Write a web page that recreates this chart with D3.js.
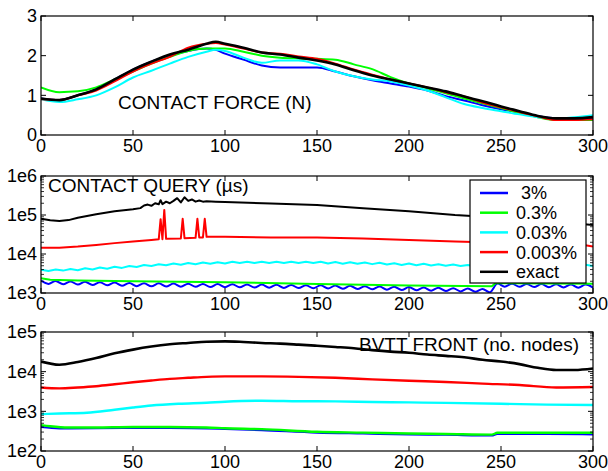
<!DOCTYPE html>
<html><head><meta charset="utf-8">
<script src="https://cdn.jsdelivr.net/npm/d3@7"></script>
<style>body{margin:0;background:#fff}svg{display:block;font-family:"Liberation Sans",Arial,Helvetica,sans-serif}</style>
</head><body><svg id="c" width="608" height="471"></svg>
<script>
// ---------- DATA ----------
const seriesNames = [" 3%", "0.3%", "0.03%", "0.003%", "exact"];
const seriesColors = ["#0000ff", "#00ff00", "#00ffff", "#ff0000", "#000000"];
const xTicks = [0, 50, 100, 150, 200, 250, 300];

// Panel 1: contact force (N)
const forceX = [0,10,20,30,40,50,60,70,80,90,95,100,110,120,130,140,150,160,170,180,190,200,210,220,230,240,250,260,270,280,290,300];
const forceBlue  = [0.92,0.88,1.0,1.15,1.4,1.65,1.85,2.0,2.12,2.18,2.15,2.05,1.9,1.75,1.7,1.7,1.7,1.6,1.48,1.38,1.3,1.22,1.12,0.98,0.87,0.75,0.65,0.57,0.47,0.42,0.42,0.42];
const forceGreen = [1.2,1.08,1.1,1.2,1.4,1.6,1.8,1.97,2.12,2.18,2.18,2.18,2.1,2.0,1.95,1.93,1.92,1.9,1.78,1.66,1.46,1.3,1.18,1.05,0.92,0.8,0.68,0.56,0.45,0.38,0.38,0.38];
const forceCyan  = [0.9,0.83,0.9,1.0,1.2,1.45,1.62,1.8,1.97,2.1,2.15,2.12,1.95,1.82,1.88,1.88,1.78,1.6,1.48,1.4,1.35,1.25,1.12,0.95,0.78,0.68,0.6,0.52,0.45,0.42,0.45,0.5];
const forceRed   = [0.9,0.88,1.0,1.12,1.35,1.6,1.8,1.97,2.2,2.3,2.32,2.28,2.18,2.08,2.05,1.98,1.92,1.8,1.65,1.52,1.4,1.3,1.2,1.08,0.97,0.82,0.7,0.58,0.47,0.38,0.38,0.4];
const forceBlack = [0.92,0.88,1.0,1.15,1.4,1.65,1.85,2.03,2.15,2.3,2.35,2.3,2.2,2.08,2.03,1.95,1.88,1.78,1.63,1.5,1.4,1.3,1.2,1.1,0.97,0.85,0.72,0.6,0.48,0.42,0.42,0.45];
const forceTicks = [0, 1, 2, 3];

// Panel 2: contact query time (µs), log scale
const queryGridX = [0,4,8,12,16,20,24,28,32,36,40,44,48,52,56,60,64,68,72,76,80,84,88,92,96,100,104,108,112,116,120,124,128,132,136,140,144,148,152,156,160,164,168,172,176,180,184,188,192,196,200,204,208,212,216,220,224,228,232,236,240,244,248,252,256,260,264,268,272,276,280,284,288,292,296,300];
const queryBlue = [2070,1710,2030,1670,1980,1640,1940,1600,1900,1570,1850,1530,1810,1500,1780,1480,1770,1470,1740,1450,1730,1440,1710,1420,1700,1410,1680,1400,1660,1380,1650,1370,1630,1350,1610,1340,1590,1320,1580,1310,1550,1280,1530,1260,1500,1240,1470,1220,1440,1190,1420,1170,1380,1150,1360,1120,1330,1100,1300,1070,1270,1050,1740,1450,1730,1440,1710,1420,1690,1410,1670,1390,1660,1370,1640,1370];
const queryCyan = [3950,3650,3990,3750,4100,3850,4300,4000,4500,4200,4700,4400,4950,4650,5200,4900,5450,5150,5700,5300,5900,5450,6050,5600,6150,5700,6350,5850,6350,5850,6350,5850,6350,5850,6350,5850,6350,5850,6350,5700,6200,5650,6150,5600,6050,5500,5950,5350,5800,5250,5700,5150,5600,5100,5450,5000,5350,4900,5250,4800,5200,4800,5200,4800,5200,4800,5200,4800,5200,4800,5200,4850,5250,4900,5300,4950];
const queryGreen = [[0,2400],[5,2200],[20,2100],[50,2000],[100,1900],[150,1700],[200,1550],[245,1480],[247,1780],[275,1750],[300,1720]];
const queryRed = [[0,14500],[10,14500],[20,15500],[30,17000],[40,19000],[50,21000],[60,23000],[64,24000],[65,78000],[66,24000],[67,135000],[68,24500],[76,25000],[77,80000],[78,25500],[84,26000],[85,80000],[86,26500],[88,26500],[89,80000],[90,27500],[100,27500],[125,26500],[150,26500],[175,25000],[200,23000],[225,21000],[250,19500],[275,18000],[295,17000],[300,15500]];
const queryBlack = [[0,80000],[5,73000],[10,70000],[15,74000],[20,85000],[30,105000],[40,125000],[50,140000],[54,150000],[56,175000],[58,185000],[60,172000],[62,200000],[64,188000],[65,240000],[66,190000],[68,220000],[70,200000],[72,230000],[74,270000],[76,210000],[78,285000],[80,230000],[82,250000],[84,220000],[86,235000],[88,220000],[90,225000],[95,220000],[100,215000],[125,197000],[150,180000],[175,150000],[200,125000],[225,100000],[250,85000],[275,70000],[300,55000]];
const queryTicks = [1e3, 1e4, 1e5, 1e6];
const queryTickLabels = ["1e3", "1e4", "1e5", "1e6"];

// Panel 3: BVTT front size (no. nodes), log scale
const frontBlue  = [[0,400],[10,370],[30,375],[50,380],[70,378],[90,370],[100,360],[120,335],[150,290],[175,275],[200,262],[220,255],[245,245],[248,268],[275,268],[300,262]];
const frontGreen = [[0,450],[5,420],[15,390],[30,392],[50,402],[70,402],[90,392],[100,375],[120,355],[150,305],[175,290],[200,275],[220,268],[245,258],[248,288],[275,288],[300,288]];
const frontCyan  = [[0,850],[10,880],[25,920],[40,1100],[50,1250],[60,1400],[75,1550],[90,1650],[100,1750],[120,1850],[140,1800],[160,1780],[180,1720],[200,1680],[220,1630],[250,1550],[275,1480],[300,1450]];
const frontRed   = [[0,4000],[10,3800],[20,4000],[30,4300],[40,4800],[50,5400],[60,6000],[70,6600],[80,7000],[90,7400],[100,7600],[120,7600],[140,7400],[160,7000],[180,6400],[200,5900],[220,5500],[240,5000],[260,4600],[280,4000],[300,4100]];
const frontBlack = [[0,18000],[10,15000],[20,17500],[30,22000],[40,29000],[50,36000],[60,43000],[70,49000],[80,53000],[90,57000],[100,58000],[110,56000],[120,53000],[130,51000],[140,48000],[150,45000],[160,42000],[170,39000],[180,35000],[190,32000],[200,30000],[210,27000],[220,25000],[230,23000],[240,20000],[250,18000],[260,15500],[270,12500],[280,11000],[290,11000],[300,12000]];
const frontTicks = [1e2, 1e3, 1e4, 1e5];
const frontTickLabels = ["1e2", "1e3", "1e4", "1e5"];

// ---------- DRAW ----------
const svg = d3.select("#c");
const L = 41, R = 593;
const x = d3.scaleLinear().domain([0, 300]).range([L, R]);

const zipPairs = (xs, ys) => xs.map((v, i) => [v, ys[i]]);

const panels = [
  { top: 16, bottom: 135, log: false, domain: [0, 3], ticks: forceTicks, labels: forceTicks.map(String),
    series: [zipPairs(forceX, forceBlue), zipPairs(forceX, forceGreen), zipPairs(forceX, forceCyan), zipPairs(forceX, forceRed), zipPairs(forceX, forceBlack)],
    curves: [d3.curveMonotoneX, d3.curveMonotoneX, d3.curveMonotoneX, d3.curveMonotoneX, d3.curveMonotoneX],
    widths: [2, 2, 2, 2, 2.6] },
  { top: 176, bottom: 293, log: true, domain: [1e3, 1e6], ticks: queryTicks, labels: queryTickLabels,
    series: [zipPairs(queryGridX, queryBlue), queryGreen, zipPairs(queryGridX, queryCyan), queryRed, queryBlack],
    curves: [d3.curveCatmullRom, d3.curveLinear, d3.curveLinear, d3.curveLinear, d3.curveLinear],
    widths: [2, 2, 2, 2, 2] },
  { top: 332, bottom: 451, log: true, domain: [1e2, 1e5], ticks: frontTicks, labels: frontTickLabels,
    series: [frontBlue, frontGreen, frontCyan, frontRed, frontBlack],
    curves: [d3.curveMonotoneX, d3.curveMonotoneX, d3.curveMonotoneX, d3.curveMonotoneX, d3.curveMonotoneX],
    widths: [2, 2.4, 2.4, 2.4, 2.6] }
];

const fsTick = 18;

panels.forEach((p, pi) => {
  const y = (p.log ? d3.scaleLog() : d3.scaleLinear()).domain(p.domain).range([p.bottom, p.top]);
  const g = svg.append("g");
  const clipId = "clip" + pi;
  svg.append("clipPath").attr("id", clipId).append("rect")
    .attr("x", L).attr("y", p.top).attr("width", R - L).attr("height", p.bottom - p.top);

  const lines = g.append("g").attr("clip-path", `url(#${clipId})`);
  p.series.forEach((s, si) => {
    lines.append("path")
      .attr("d", d3.line().x(d => x(d[0])).y(d => y(d[1])).curve(p.curves[si])(s))
      .attr("fill", "none").attr("stroke", seriesColors[si])
      .attr("stroke-width", p.widths[si]).attr("stroke-linejoin", "round");
  });

  // frame
  g.append("rect").attr("x", L).attr("y", p.top).attr("width", R - L).attr("height", p.bottom - p.top)
    .attr("fill", "none").attr("stroke", "#000").attr("stroke-width", 1.2);

  // x ticks (inside, top and bottom)
  xTicks.forEach(t => {
    const xx = x(t);
    g.append("line").attr("x1", xx).attr("x2", xx).attr("y1", p.bottom).attr("y2", p.bottom - 5).attr("stroke", "#000");
    g.append("line").attr("x1", xx).attr("x2", xx).attr("y1", p.top).attr("y2", p.top + 5).attr("stroke", "#000");
    g.append("text").attr("x", xx).attr("y", p.bottom + 17).attr("text-anchor", "middle")
      .attr("font-size", fsTick).text(t);
  });

  // y ticks
  p.ticks.forEach((t, i) => {
    const yy = y(t);
    g.append("line").attr("x1", L).attr("x2", L + 5).attr("y1", yy).attr("y2", yy).attr("stroke", "#000");
    g.append("line").attr("x1", R).attr("x2", R - 5).attr("y1", yy).attr("y2", yy).attr("stroke", "#000");
    g.append("text").attr("x", L - 4).attr("y", yy).attr("dy", "0.36em").attr("text-anchor", "end")
      .attr("font-size", fsTick).text(p.labels[i]);
  });
  if (p.log) {
    const minors = [];
    for (let d = p.domain[0]; d < p.domain[1]; d *= 10) for (let k = 2; k <= 9; k++) minors.push(d * k);
    minors.forEach(t => {
      const yy = y(t);
      g.append("line").attr("x1", L).attr("x2", L + 3).attr("y1", yy).attr("y2", yy).attr("stroke", "#000").attr("stroke-width", 0.8);
      g.append("line").attr("x1", R).attr("x2", R - 3).attr("y1", yy).attr("y2", yy).attr("stroke", "#000").attr("stroke-width", 0.8);
    });
  }
});

// panel titles
svg.append("text").attr("x", 118).attr("y", 109).attr("font-size", 19).text("CONTACT FORCE (N)");
svg.append("text").attr("x", 48).attr("y", 192).attr("font-size", 19).text("CONTACT QUERY (µs)");
svg.append("text").attr("x", 579).attr("y", 351).attr("text-anchor", "end").attr("font-size", 19).text("BVTT FRONT (no. nodes)");

// legend
const lg = svg.append("g");
lg.append("rect").attr("x", 470).attr("y", 180).attr("width", 116).attr("height", 103)
  .attr("fill", "#fff").attr("stroke", "#000").attr("stroke-width", 1.2);
seriesNames.forEach((n, i) => {
  const yy = 193 + i * 19.7;
  lg.append("line").attr("x1", 480).attr("x2", 508).attr("y1", yy).attr("y2", yy)
    .attr("stroke", seriesColors[i]).attr("stroke-width", 2.5);
  lg.append("text").attr("x", 516).attr("y", yy).attr("dy", "0.36em").attr("font-size", 18)
    .style("white-space", "pre").text(n);
});
</script>
</body></html>
